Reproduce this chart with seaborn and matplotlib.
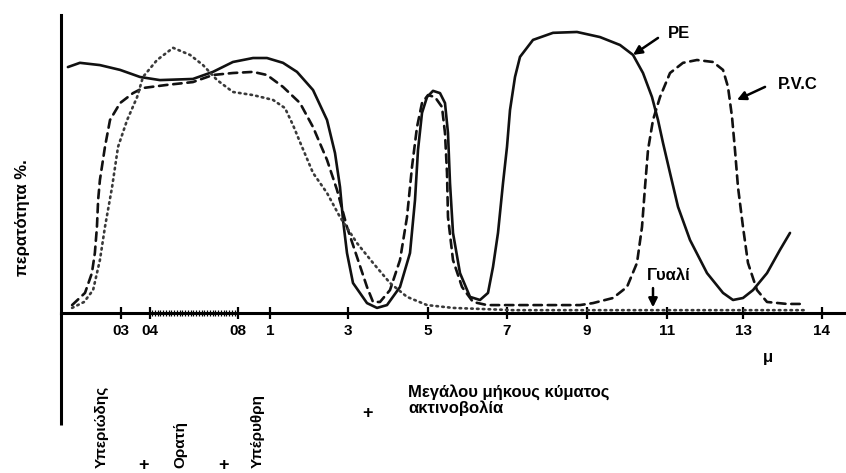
import numpy as np
import pandas as pd
import matplotlib
matplotlib.use("Agg")
import matplotlib.pyplot as plt
from matplotlib.scale import FuncScale
import seaborn as sns

# Transmittance (%) of three covering materials against wavelength (μm)
pe_wl = [0.123, 0.163, 0.230, 0.298, 0.366, 0.445, 0.595, 0.686, 0.777, 0.894, 0.981,
         1.333, 1.692, 2.103, 2.462, 2.667, 2.795, 2.872, 2.974, 3.125, 3.475, 3.725,
         3.975, 4.30, 4.55, 4.675, 4.75, 4.85, 4.975, 5.127, 5.304, 5.430, 5.506, 5.557,
         5.633, 5.810, 6.063, 6.316, 6.519, 6.646, 6.772, 6.899, 7.0, 7.075, 7.2, 7.325,
         7.65, 8.15, 8.75, 9.325, 9.825, 10.15, 10.4, 10.625, 10.775, 10.9, 11.079,
         11.29, 11.605, 12.053, 12.474, 12.737, 13.0, 13.127, 13.304, 13.468, 13.595]
pe_tr = [86.9, 88.4, 87.6, 85.9, 83.4, 82.3, 82.7, 85.2, 88.7, 90.1, 90.1,
         88.4, 85.2, 78.8, 68.2, 56.5, 44.5, 32.9, 21.2, 10.6, 3.5, 1.8,
         2.8, 9.2, 21.2, 39.9, 57.6, 70.7, 76.3, 78.5, 77.7, 74.2, 63.6, 45.9,
         28.3, 14.1, 5.7, 4.6, 7.1, 16.3, 28.3, 45.9, 58.7, 71.7, 83.4, 90.5,
         96.5, 99.0, 99.3, 97.5, 94.7, 91.2, 84.8, 76.3, 68.2, 60.1, 49.5,
         37.5, 25.8, 14.1, 7.1, 4.6, 5.3, 8.1, 14.1, 22.3, 28.3]

pvc_wl = [0.137, 0.180, 0.203, 0.213, 0.220, 0.224, 0.230, 0.247, 0.264, 0.298, 0.342,
          0.376, 0.477, 0.595, 0.686, 0.777, 0.894, 0.981, 1.333, 1.769, 2.103, 2.462,
          2.718, 2.974, 3.225, 3.475, 3.625, 3.8, 4.05, 4.3, 4.475, 4.6, 4.725, 4.85,
          5.0, 5.177, 5.354, 5.430, 5.481, 5.506, 5.633, 5.861, 6.139, 6.494, 7.15, 8.0,
          8.825, 9.15, 9.65, 10.0, 10.25, 10.375, 10.45, 10.525, 10.65, 10.825, 11.079,
          11.421, 11.789, 12.21, 12.474, 12.605, 12.711, 12.789, 12.868, 13.0, 13.063,
          13.177, 13.304, 13.557, 13.759]
pvc_tr = [2.8, 7.1, 14.1, 21.2, 30.4, 39.9, 47.0, 58.7, 68.2, 74.2, 77.7,
          79.5, 80.6, 81.6, 84.1, 84.8, 85.2, 84.1, 79.9, 74.2, 65.7, 54.1,
          43.5, 30.4, 19.8, 9.2, 3.9, 3.9, 8.1, 18.7, 33.9, 51.6, 65.7, 74.2,
          77.0, 76.3, 72.8, 63.6, 49.5, 33.9, 18.7, 9.2, 3.9, 2.8, 2.8, 2.8,
          2.8, 3.5, 5.3, 9.2, 17.7, 30.4, 44.5, 57.6, 68.2, 76.3, 84.8,
          88.4, 89.4, 88.7, 85.9, 79.9, 69.3, 57.6, 44.5, 30.4, 17.7,
          8.1, 3.9, 3.2, 3.2]

glass_wl = [0.137, 0.177, 0.207, 0.230, 0.247, 0.271, 0.291, 0.322, 0.356, 0.376, 0.432,
            0.505, 0.582, 0.641, 0.705, 0.777, 0.894, 1.077, 1.385, 1.590, 1.769, 2.103,
            2.462, 2.795, 3.225, 3.625, 4.05, 4.475, 4.975, 5.633, 7.15, 8.825, 10.825,
            12.921, 13.785]
glass_tr = [1.8, 3.9, 8.1, 18.7, 30.4, 44.5, 58.7, 68.2, 76.3, 83.4, 89.4,
            93.7, 91.2, 87.6, 82.3, 78.1, 77.0, 75.3, 72.4, 66.4, 60.4, 49.5,
            42.4, 33.9, 24.7, 17.7, 10.6, 5.7, 2.8, 1.8, 1.0, 1.0, 1.0,
            1.0, 1.0]

tick_wl = [0.3, 0.4, 0.8, 1, 3, 5, 7, 9, 11, 13, 14]
tick_labels = ["03", "04", "08", "1", "3", "5", "7", "9", "11", "13", "14"]

# The printed wavelength axis is hand-spaced: map μm to axis position piecewise
scale_wl = np.array([0.1, 0.2, 0.3, 0.4, 0.8, 1, 3, 5, 7, 9, 11, 13, 14, 14.3])
scale_pos = np.array([61, 91, 120.7, 150, 238, 270, 348, 428, 507, 587, 667, 743, 822, 846.0])


def forward(x):
    return np.interp(x, scale_wl, scale_pos)


def inverse(p):
    return np.interp(p, scale_pos, scale_wl)


df = pd.concat([
    pd.DataFrame({"wl": pe_wl, "tr": pe_tr, "material": "PE"}),
    pd.DataFrame({"wl": pvc_wl, "tr": pvc_tr, "material": "P.V.C"}),
    pd.DataFrame({"wl": glass_wl, "tr": glass_tr, "material": "Γυαλί"}),
], ignore_index=True)

sns.set_theme(style="white")
plt.rcParams["font.family"] = ["Liberation Sans", "DejaVu Sans"]

W, H = 846, 473
fig = plt.figure(figsize=(W / 100, H / 100), dpi=100)
ax = fig.add_axes([61 / W, 1 - 313 / H, 785 / W, 298 / H])


def fx(px):
    return px / W


def fy(py):
    return 1 - py / H


ax.set_xscale(FuncScale(ax, (forward, inverse)))
ax.set_xlim(0.1, 14.3)
ax.set_ylim(0, 105.3)

ink = "#111111"
sns.lineplot(data=df, x="wl", y="tr", hue="material", style="material",
             palette={"PE": ink, "P.V.C": ink, "Γυαλί": "#3a3a3a"},
             dashes={"PE": "", "P.V.C": (3.2, 2.2), "Γυαλί": (0.6, 1.6)},
             sort=False, estimator=None, legend=False, ax=ax,
             linewidth=1.9, dash_capstyle="round")

# axes frame: left and bottom only; left line continues below the axis
for side in ("top", "right"):
    ax.spines[side].set_visible(False)
for side in ("left", "bottom"):
    ax.spines[side].set_color("black")
    ax.spines[side].set_linewidth(2.2)
ax.plot([0, 0], [0, -112 / 298], transform=ax.transAxes, clip_on=False,
        color="black", lw=2.2, solid_capstyle="butt")

ax.set_yticks([])
ax.set_xticks(tick_wl)
ax.set_xticklabels(tick_labels)
ax.xaxis.set_minor_locator(matplotlib.ticker.FixedLocator(np.arange(0.41, 0.79, 0.0125)))
ax.tick_params(axis="x", which="major", bottom=True, direction="inout", length=8,
               width=1.6, color="black", pad=4, labelsize=11, labelcolor="black")
ax.tick_params(axis="x", which="minor", bottom=True, direction="inout", length=5,
               width=0.9, color="black")
for lab in ax.get_xticklabels():
    lab.set_fontweight("bold")
ax.set_xlabel("")
ax.set_ylabel("")

# curve labels with arrows
arrow = dict(arrowstyle="-|>", color="black", lw=1.8, mutation_scale=13,
             shrinkA=0, shrinkB=0)
ax.annotate("", xy=(10.15, 91.2), xytext=(10.775, 97.2), arrowprops=arrow)
ax.annotate("", xy=(12.842, 75.3), xytext=(13.279, 79.9), arrowprops=arrow)
ax.annotate("", xy=(10.65, 2.0), xytext=(10.65, 8.8), arrowprops=arrow)
txt = dict(fontsize=12, fontweight="bold", color="black", ha="center", va="center")
ax.text(11.316, 98.9, "PE", **txt)
ax.text(13.696, 80.6, "P.V.C", **txt)
ax.text(11.053, 13.4, "Γυαλί", **txt)

# axis titles and spectral bands
fig.text(fx(22), fy(218), "περατότητα %.", rotation=90, ha="center", va="center",
         fontsize=12, fontweight="bold", color="black")
fig.text(fx(768), fy(357), "μ", ha="center", va="center", fontsize=12,
         fontweight="bold", color="black")
band = dict(fontsize=11, fontweight="bold", color="black", rotation=90,
            ha="center", va="bottom")
fig.text(fx(102), fy(468), "Υπεριώδης", **band)
fig.text(fx(180), fy(468), "Ορατή", **band)
fig.text(fx(258), fy(468), "Υπέρυθρη", **band)
for px, py in [(143, 465), (223, 465), (367, 413)]:
    fig.text(fx(px), fy(py), "+", ha="center", va="center", fontsize=13,
             fontweight="bold", color="black")
fig.text(fx(408), fy(400), "Μεγάλου μήκους κύματος\nακτινοβολία", ha="left",
         va="center", linespacing=1.0, fontsize=12, fontweight="bold", color="black")

fig.savefig("out.png", dpi=100, facecolor="white")
